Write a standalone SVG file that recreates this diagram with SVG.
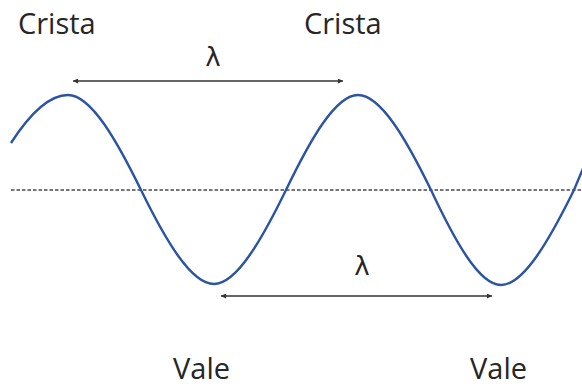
<svg xmlns="http://www.w3.org/2000/svg" width="582" height="388" viewBox="0 0 582 388">
<defs>
<style>
.lbl{font-family:"Open Sans","Noto Sans","Liberation Sans",sans-serif;font-size:29px;fill:#262626}
.lam{font-family:"DejaVu Sans","Noto Sans",sans-serif;font-size:26px;fill:#262626;text-anchor:middle}
.dim{stroke:#333;stroke-width:1.3;fill:none;marker-start:url(#ah);marker-end:url(#ah)}
</style>
<marker id="ah" viewBox="0 0 10 10" refX="10" refY="5" markerWidth="6" markerHeight="5" orient="auto-start-reverse" markerUnits="userSpaceOnUse">
<path d="M0,0 L10,5 L0,10 z" fill="#333"/>
</marker>
</defs>
<rect width="582" height="388" fill="#fff"/>
<g id="axis">
<line x1="11" y1="190" x2="582" y2="190" stroke="#4a4a4a" stroke-width="1.4" stroke-dasharray="3.5 2"/>
</g>
<g id="wave">
<path d="M11,143 C31,112 50,95 68,95 C91.2,95 117.2,141.4 141,190 C164.8,238.6 190.8,284 214,284 C236.9,284 262.5,238.1 286,190 C309.5,141.4 335.1,95 358,95 C381.2,95 407.2,141.4 431,190 C453.8,238.6 478.7,285 501,285 C523.9,285 550,238.6 574,190 L584,166" fill="none" stroke="#2c54a2" stroke-width="2.4"/>
</g>
<g id="connectors">
<line class="dim" x1="73" y1="81" x2="343" y2="81"/>
<line class="dim" x1="221" y1="296" x2="492" y2="296"/>
</g>
<g id="labels">
<text class="lbl" x="18" y="34">Crista</text>
<text class="lbl" x="304" y="34">Crista</text>
<text class="lbl" x="173" y="379">Vale</text>
<text class="lbl" x="470" y="379">Vale</text>
<text class="lam" x="213" y="66">λ</text>
<text class="lam" x="362" y="275">λ</text>
</g>
</svg>
